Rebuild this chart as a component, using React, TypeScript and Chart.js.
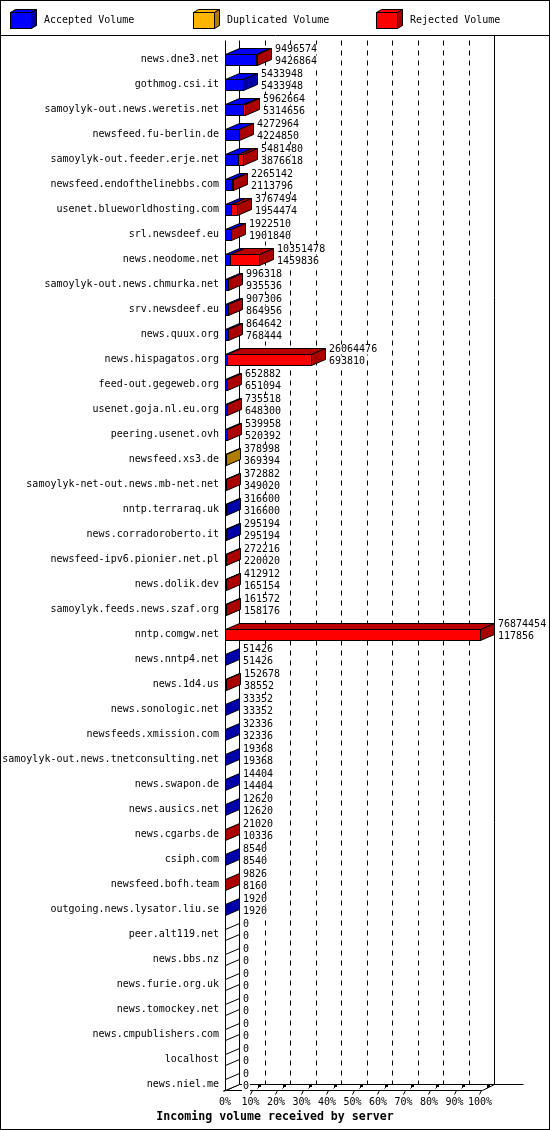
import { useEffect, useRef } from "react";
import { Chart, registerables } from "chart.js";

Chart.register(...registerables);

const servers = [
  "news.dne3.net",
  "gothmog.csi.it",
  "samoylyk-out.news.weretis.net",
  "newsfeed.fu-berlin.de",
  "samoylyk-out.feeder.erje.net",
  "newsfeed.endofthelinebbs.com",
  "usenet.blueworldhosting.com",
  "srl.newsdeef.eu",
  "news.neodome.net",
  "samoylyk-out.news.chmurka.net",
  "srv.newsdeef.eu",
  "news.quux.org",
  "news.hispagatos.org",
  "feed-out.gegeweb.org",
  "usenet.goja.nl.eu.org",
  "peering.usenet.ovh",
  "newsfeed.xs3.de",
  "samoylyk-net-out.news.mb-net.net",
  "nntp.terraraq.uk",
  "news.corradoroberto.it",
  "newsfeed-ipv6.pionier.net.pl",
  "news.dolik.dev",
  "samoylyk.feeds.news.szaf.org",
  "nntp.comgw.net",
  "news.nntp4.net",
  "news.1d4.us",
  "news.sonologic.net",
  "newsfeeds.xmission.com",
  "samoylyk-out.news.tnetconsulting.net",
  "news.swapon.de",
  "news.ausics.net",
  "news.cgarbs.de",
  "csiph.com",
  "newsfeed.bofh.team",
  "outgoing.news.lysator.liu.se",
  "peer.alt119.net",
  "news.bbs.nz",
  "news.furie.org.uk",
  "news.tomockey.net",
  "news.cmpublishers.com",
  "localhost",
  "news.niel.me",
];

// total volume offered (upper number next to each bar)
const totalVolume = [
  9496574, 5433948, 5962664, 4272964, 5481480, 2265142, 3767494, 1922510,
  10351478, 996318, 907306, 864642, 26064476, 652882, 735518, 539958,
  378998, 372882, 316600, 295194, 272216, 412912, 161572, 76874454,
  51426, 152678, 33352, 32336, 19368, 14404, 12620, 21020,
  8540, 9826, 1920, 0, 0, 0, 0, 0, 0, 0,
];

// accepted volume (lower number)
const acceptedVolume = [
  9426864, 5433948, 5314656, 4224850, 3876618, 2113796, 1954474, 1901840,
  1459836, 935536, 864956, 768444, 693810, 651094, 648300, 520392,
  369394, 349020, 316600, 295194, 220020, 165154, 158176, 117856,
  51426, 38552, 33352, 32336, 19368, 14404, 12620, 10336,
  8540, 8160, 1920, 0, 0, 0, 0, 0, 0, 0,
];

// only newsfeed.xs3.de shows duplicates
const duplicatedVolume = [
  0, 0, 0, 0, 0, 0, 0, 0, 0, 0, 0, 0, 0, 0, 0, 0,
  9604, 0, 0, 0, 0, 0, 0, 0, 0, 0, 0, 0, 0, 0, 0, 0,
  0, 0, 0, 0, 0, 0, 0, 0, 0, 0,
];

const rejectedVolume = totalVolume.map(
  (t, i) => t - acceptedVolume[i] - duplicatedVolume[i]
);

const tickPercents = [0, 10, 20, 30, 40, 50, 60, 70, 80, 90, 100];

const xMax = Math.max(...totalVolume);

const W = 550;
const H = 1130;
const DX = 14; // depth to the right
const DY = 6; // depth upwards
const HALF = 5.5;
const FONT = "10px 'DejaVu Sans Mono', monospace";

const shades = [
  { name: "Accepted Volume", front: "#0000ff", top: "#0000f0", side: "#0000a8" },
  { name: "Duplicated Volume", front: "#ffb400", top: "#c88c00", side: "#b07c00" },
  { name: "Rejected Volume", front: "#ff0000", top: "#b80000", side: "#aa0000" },
];

function poly(ctx: CanvasRenderingContext2D, pts: number[][], fill: string | null) {
  ctx.beginPath();
  pts.forEach(([x, y], i) => {
    if (i === 0) ctx.moveTo(x + 0.5, y + 0.5);
    else ctx.lineTo(x + 0.5, y + 0.5);
  });
  ctx.closePath();
  if (fill) {
    ctx.fillStyle = fill;
    ctx.fill();
  }
  ctx.stroke();
}

function line(ctx: CanvasRenderingContext2D, x1: number, y1: number, x2: number, y2: number) {
  ctx.beginPath();
  ctx.moveTo(x1 + 0.5, y1 + 0.5);
  ctx.lineTo(x2 + 0.5, y2 + 0.5);
  ctx.stroke();
}

const box3d = {
  id: "box3d",
  beforeDraw(chart: any) {
    const ctx: CanvasRenderingContext2D = chart.ctx;
    ctx.save();
    ctx.fillStyle = "#ffffff";
    ctx.fillRect(0, 0, W, H);
    ctx.strokeStyle = "#000";
    ctx.lineWidth = 1;
    ctx.strokeRect(0.5, 0.5, W - 1, H - 1);

    // legend
    line(ctx, 0, 35, W, 35);
    const lx = [10, 193, 376];
    ctx.font = FONT;
    ctx.textBaseline = "middle";
    shades.forEach((s, i) => {
      const x = lx[i];
      ctx.fillStyle = s.front;
      ctx.fillRect(x, 12, 21, 16);
      ctx.strokeRect(x + 0.5, 12.5, 21, 16);
      poly(ctx, [[x, 12], [x + 21, 12], [x + 26, 9], [x + 5, 9]], s.front);
      poly(ctx, [[x + 21, 12], [x + 26, 9], [x + 26, 25], [x + 21, 28]], s.side);
      ctx.fillStyle = "#000";
      ctx.textAlign = "left";
      ctx.fillText(s.name, x + 34, 20);
    });
    ctx.restore();
  },
  afterDraw(chart: any) {
    const ctx: CanvasRenderingContext2D = chart.ctx;
    const xs = chart.scales.x;
    const metas = [0, 1, 2].map((d) => chart.getDatasetMeta(d));
    const n = servers.length;
    const x0 = Math.round(xs.getPixelForValue(0));
    const x100 = Math.round(xs.getPixelForValue(xMax));
    const lastY = metas[0].data[n - 1].y;
    const floorY = Math.round(lastY + HALF);
    const topY = 40;

    ctx.save();
    ctx.strokeStyle = "#000";
    ctx.lineWidth = 1;

    // back wall grid
    line(ctx, x0 + DX, topY, x0 + DX, floorY - DY);
    ctx.setLineDash([5, 5]);
    tickPercents.slice(1, -1).forEach((p) => {
      const px = Math.round(xs.getPixelForValue((xMax * p) / 100)) + DX;
      line(ctx, px, topY, px, floorY - DY);
    });
    ctx.setLineDash([]);
    line(ctx, x100 + DX, 35, x100 + DX, floorY - DY);

    // front axis + floor
    line(ctx, x0, topY, x0, floorY);
    line(ctx, x0 - 2, floorY, x100 + 2, floorY);
    line(ctx, x100 + 2, floorY, x100 + DX, floorY - DY);
    line(ctx, x0 + DX, floorY - DY, x100 + DX + 29, floorY - DY);
    line(ctx, x0 - 2, floorY + 1, x0 + DX, floorY - DY);

    // floor ticks
    tickPercents.slice(1).forEach((p) => {
      const px = Math.round(xs.getPixelForValue((xMax * p) / 100));
      line(ctx, px - 1, floorY + 4, px + 1, floorY);
      line(ctx, px + 6, floorY - 2, px + 9, floorY - 5);
      ctx.fillStyle = "#000";
      ctx.fillRect(px + 7, floorY - 5, 3, 2);
    });

    // bars
    ctx.font = FONT;
    for (let i = 0; i < n; i++) {
      const yc = metas[0].data[i].y;
      const top = Math.round(yc - HALF);
      const bottom = top + 11;
      let lastSeg = -1;
      let xe = x0;
      for (let d = 0; d < 3; d++) {
        const el = metas[d].data[i];
        const val = chart.data.datasets[d].data[i];
        if (val <= 0) continue;
        lastSeg = d;
        const s = Math.round(el.base);
        const e = Math.round(el.x);
        xe = e;
        if (e - s < 1) continue;
        ctx.fillStyle = shades[d].front;
        ctx.fillRect(s, top, e - s, bottom - top);
        ctx.strokeRect(s + 0.5, top + 0.5, e - s, bottom - top);
        poly(ctx, [[s, top], [e, top], [e + DX, top - DY], [s + DX, top - DY]], shades[d].top);
      }
      poly(
        ctx,
        [[xe, top], [xe + DX, top - DY], [xe + DX, bottom - DY], [xe, bottom]],
        lastSeg >= 0 ? shades[lastSeg].side : "#ffffff"
      );

      // server label
      ctx.fillStyle = "#000";
      ctx.textAlign = "right";
      ctx.textBaseline = "middle";
      ctx.fillText(servers[i], x0 - 6, yc - 0.5);

      // values
      const tx = xe + DX + 4;
      ctx.textAlign = "left";
      [String(totalVolume[i]), String(acceptedVolume[i])].forEach((t, k) => {
        const ty = yc - 10 + k * 12;
        const w = ctx.measureText(t).width;
        ctx.fillStyle = "#fff";
        ctx.fillRect(tx - 1, ty - 5, w + 2, 10);
        ctx.fillStyle = "#000";
        ctx.fillText(t, tx, ty);
      });
    }

    // tick labels
    ctx.textAlign = "center";
    ctx.textBaseline = "middle";
    tickPercents.forEach((p) => {
      const px = xs.getPixelForValue((xMax * p) / 100);
      ctx.fillText(p + "%", px, floorY + 12);
    });

    // title
    ctx.font = "bold 11.6px 'DejaVu Sans Mono', monospace";
    ctx.fillText("Incoming volume received by server", W / 2, floorY + 27);
    ctx.restore();
  },
};

export default function App() {
  const canvasRef = useRef<HTMLCanvasElement>(null);
  const chartRef = useRef<Chart | null>(null);

  useEffect(() => {
    if (!canvasRef.current) return;
    if (chartRef.current) chartRef.current.destroy();

    const clear = "rgba(0,0,0,0)";
    chartRef.current = new Chart(canvasRef.current, {
      type: "bar",
      data: {
        labels: servers,
        datasets: [
          { label: "Accepted Volume", data: acceptedVolume, backgroundColor: clear, borderWidth: 0, barThickness: 11 },
          { label: "Duplicated Volume", data: duplicatedVolume, backgroundColor: clear, borderWidth: 0, barThickness: 11 },
          { label: "Rejected Volume", data: rejectedVolume, backgroundColor: clear, borderWidth: 0, barThickness: 11 },
        ],
      },
      options: {
        indexAxis: "y",
        animation: false,
        responsive: false,
        devicePixelRatio: 1,
        events: [],
        layout: { padding: { left: 225, right: 70, top: 47, bottom: 33 } },
        scales: {
          x: { type: "linear", stacked: true, min: 0, max: xMax, display: false },
          y: { stacked: true, display: false },
        },
        plugins: {
          legend: { display: false },
          tooltip: { enabled: false },
          title: { display: false },
        },
      },
      plugins: [box3d],
    } as any);

    return () => {
      if (chartRef.current) {
        chartRef.current.destroy();
        chartRef.current = null;
      }
    };
  }, []);

  return (
    <div style={{ position: "absolute", left: 0, top: 0, width: W, height: H }}>
      <canvas ref={canvasRef} width={W} height={H} style={{ display: "block" }}></canvas>
    </div>
  );
}
